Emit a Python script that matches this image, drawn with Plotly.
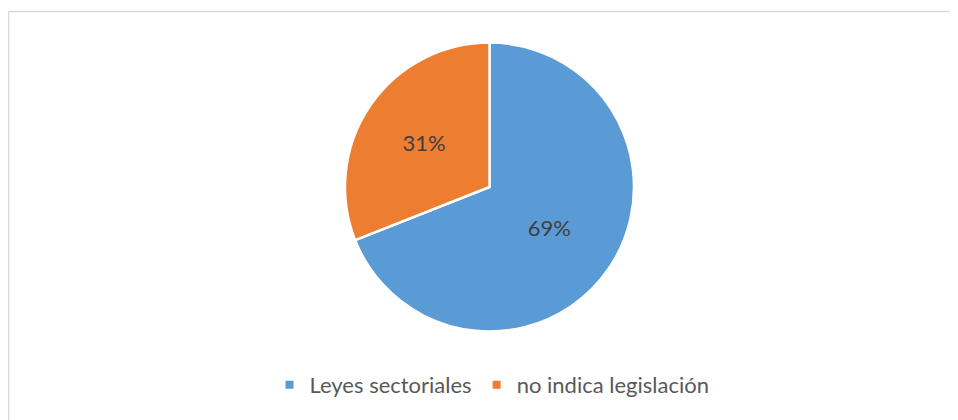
import plotly.graph_objects as go

labels = ["Leyes sectoriales", "no indica legislación"]
values = [69, 31]
colors = ["#5B9BD5", "#ED7D31"]

W, H = 958, 420
OFF = 8  # page body margin offset
FONT = "Lato, Carlito, Calibri, sans-serif"


def px_x(x):
    return (x - OFF) / W


def px_y(y):
    return 1 - (y - OFF) / H


fig = go.Figure()
fig.add_trace(go.Pie(
    labels=labels, values=values, sort=False, direction="clockwise", rotation=0,
    marker=dict(colors=colors, line=dict(color="white", width=2.5)),
    textinfo="percent", texttemplate="%{percent:.0%}",
    textposition="inside", insidetextorientation="horizontal",
    textfont=dict(family=FONT, size=22, color="#404040"),
    showlegend=False, hoverinfo="label+percent",
    domain=dict(x=[px_x(345), px_x(634)], y=[px_y(332), px_y(42)]),
))
for lab, col in zip(labels, colors):
    fig.add_trace(go.Scatter(
        x=[None], y=[None], mode="markers", name=lab,
        marker=dict(symbol="square", size=8, color=col),
        showlegend=True,
    ))

border = dict(color="#D9D9D9", width=1.5)
fig.update_layout(
    width=W, height=H,
    margin=dict(l=0, r=0, t=0, b=0),
    paper_bgcolor="white", plot_bgcolor="white",
    xaxis=dict(visible=False), yaxis=dict(visible=False),
    legend=dict(
        orientation="h", x=px_x(492), xanchor="center", y=px_y(385), yanchor="middle",
        font=dict(family=FONT, size=22, color="#595959"),
        itemwidth=30, tracegroupgap=0,
    ),
    shapes=[
        dict(type="line", xref="paper", yref="paper",
             x0=px_x(8.5), y0=px_y(11.5), x1=1.0, y1=px_y(11.5), line=border),
        dict(type="line", xref="paper", yref="paper",
             x0=px_x(8.5), y0=px_y(11.5), x1=px_x(8.5), y1=0.0, line=border),
    ],
)

fig.write_html("out.html")
